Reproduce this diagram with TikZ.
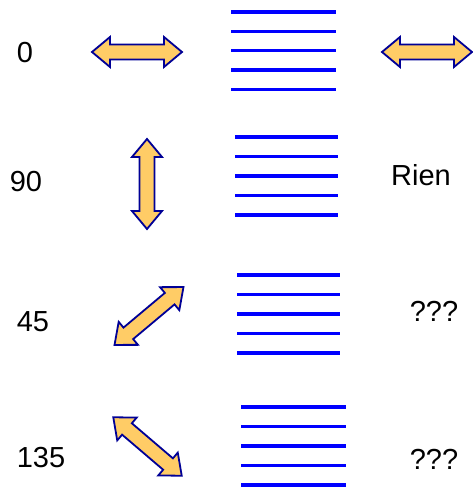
\documentclass[tikz,border=0pt]{standalone}
\usepackage{fontspec}
\setmainfont{Liberation Sans}
\begin{document}
\begin{tikzpicture}[x=1pt,y=-1pt,
  arrowstyle/.style={draw={rgb,255:red,0;green,0;blue,150}, fill={rgb,255:red,255;green,204;blue,102}, line width=1.8pt, line join=miter},
  blueline/.style={draw={rgb,255:red,0;green,0;blue,255}, line width=3.4pt},
  lbl/.style={inner sep=0pt, font=\fontsize{29}{34}\selectfont},
  dblarrow/.pic={
    \draw[arrowstyle] (-45,0) -- (-27,15) -- (-27,7.5) -- (27,7.5) -- (27,15) -- (45,0)
      -- (27,-15) -- (27,-7.5) -- (-27,-7.5) -- (-27,-15) -- cycle;
  }]
  \useasboundingbox (0,0) rectangle (472,487);

  % polarisation arrows
  \pic at (137,52) {dblarrow};
  \pic at (427,52) {dblarrow};
  \pic[rotate=90] at (147,184) {dblarrow};
  \pic[rotate=40] at (149,316) {dblarrow};
  \pic[rotate=-40.5] at (147.5,446.5) {dblarrow};

  % grating lines
  \foreach \y in {12,31.3,50.6,69.9,89.2} \draw[blueline] (231,\y) -- (336,\y);
  \foreach \y in {137,156.5,176,195.5,215} \draw[blueline] (235,\y) -- (338,\y);
  \foreach \y in {275,294.5,314,333.5,353} \draw[blueline] (237,\y) -- (340,\y);
  \foreach \y in {407,426.5,446,465.5,485} \draw[blueline] (241,\y) -- (346,\y);

  % labels
  \node[lbl] (a0) at (25,53) {0};
  \node[lbl] (a90) at (26,182) {90};
  \node[lbl] (rien) at (421,175) {Rien};
  \node[lbl] (a45) at (33,322) {45};
  \node[lbl] (q45) at (434,311) {???};
  \node[lbl] (a135) at (41,458) {135};
  \node[lbl] (q135) at (434,459) {???};
\end{tikzpicture}
\end{document}
